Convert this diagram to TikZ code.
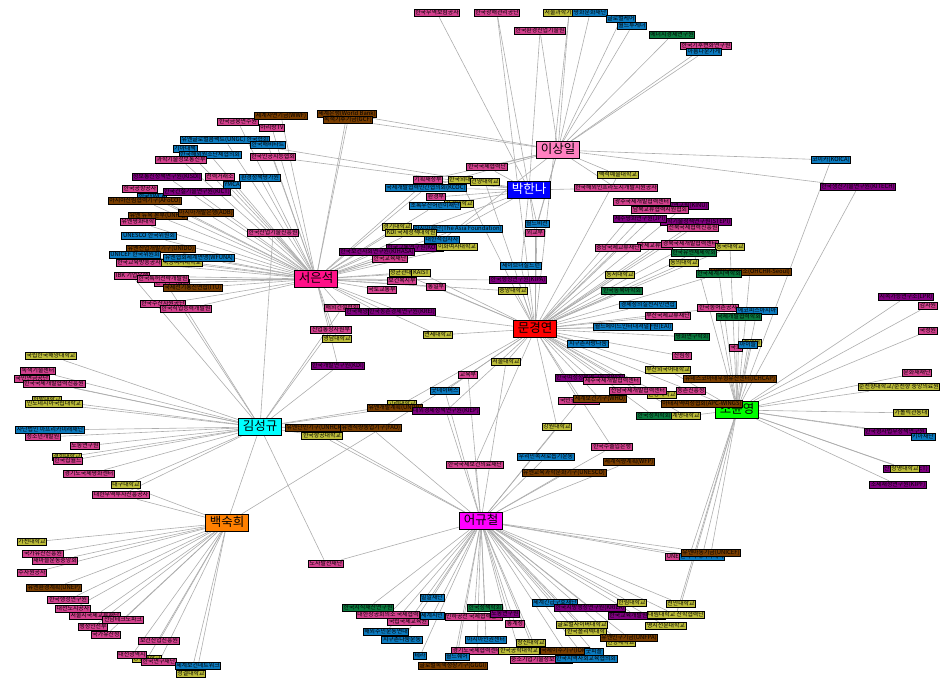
\documentclass[tikz,border=0pt]{standalone}
\usepackage{fontspec}
\setmainfont{Noto Sans CJK KR}
\usepackage{tikz}
\usetikzlibrary{backgrounds}
\definecolor{orgpink}{HTML}{D4418E}
\definecolor{orgblue}{HTML}{0C7BC0}
\definecolor{orgbrown}{HTML}{7A3E00}
\definecolor{orgpurple}{HTML}{800080}
\definecolor{orggreen}{HTML}{0A7A3E}
\definecolor{orgolive}{HTML}{BDBD3A}
\definecolor{hubpink}{HTML}{FF80C0}
\definecolor{hubblue}{HTML}{0000FF}
\definecolor{hubrose}{HTML}{FF1088}
\definecolor{hubred}{HTML}{FF0000}
\definecolor{hubcyan}{HTML}{00FFFF}
\definecolor{hubgreen}{HTML}{00FF00}
\definecolor{huborange}{HTML}{FF8000}
\definecolor{hubmagenta}{HTML}{FF00FF}
\newcommand{\orgfont}{\fontsize{5.9}{6.5}\selectfont}
\newcommand{\hubfont}{\fontsize{12.5}{14}\selectfont}

\begin{document}
\begin{tikzpicture}[
  x=1pt, y=-1pt,
  org/.style={draw=black, line width=0.9pt, inner xsep=1.1pt, inner ysep=0.7pt,
    text height=5pt, text depth=1.2pt, font=\orgfont},
  pinkorg/.style={org, fill=orgpink},
  blueorg/.style={org, fill=orgblue},
  brownorg/.style={org, fill=orgbrown},
  purpleorg/.style={org, fill=orgpurple},
  greenorg/.style={org, fill=orggreen},
  oliveorg/.style={org, fill=orgolive},
  hub/.style={draw=black, line width=0.9pt, inner xsep=4pt, inner ysep=2.6pt,
    text height=9.5pt, text depth=2.5pt, font=\hubfont},
  link/.style={draw=black!32, line width=0.6pt}
]
\useasboundingbox (0,0) rectangle (950,688);

% top
\node[pinkorg] (t1) at (437,13) {한국무역보험공사};
\node[pinkorg] (t2) at (497,13) {한국광해관리공단};
\node[pinkorg] (t11) at (540,31) {한국환경산업기술원};
\node[oliveorg] (t3) at (569,13) {서울과학기술대학교};
\node[blueorg] (t4) at (590,13) {평화문화재단};
\node[blueorg] (t5) at (621,19) {글로벌케어};
\node[blueorg] (t6) at (632,26) {월드투게더};
\node[greenorg] (t7) at (672,35) {에너지경제연구원};
\node[pinkorg] (t8) at (706,46) {한국기후변화연구원};
\node[blueorg] (t9) at (704,52) {아름다운가게};

% left, round seo
\node[pinkorg] (l1) at (238,122) {한국금융연수원};
\node[brownorg] (l3) at (281,116) {세계자연기금(WWF)};
\node[pinkorg] (l2) at (272,128) {아리랑TV};
\node[brownorg] (l4) at (347,114) {세계은행(World Bank)};
\node[brownorg] (l5) at (348,120) {녹색기후기금(GCF)};
\node[blueorg] (l8) at (185,149) {기아대책};
\node[blueorg] (l6) at (225,140) {유엔글로벌콤팩트(UNGC) 한국협회};
\node[blueorg] (l7) at (268,145) {한국해비타트};
\node[blueorg] (l9) at (210,155) {한국해외원조단체협의회};
\node[pinkorg] (l10) at (181,160) {과학기술정보통신부};
\node[pinkorg] (l11) at (273,157) {한국인공지능협회};
\node[purpleorg] (l12) at (167,177) {정보통신정책연구원(KISDI)};
\node[pinkorg] (l13) at (220,177) {전력거래소};
\node[blueorg] (l15) at (260,178) {환경정책평가원};
\node[blueorg] (l16) at (232,185) {YMCA};
\node[pinkorg] (l17) at (140,189) {한국공항공사};
\node[blueorg] (l19) at (152,197) {한국YWCA};
\node[purpleorg] (l18) at (197,192) {한국건설기술연구원(KICT)};
\node[brownorg] (l20) at (145,201) {아시아산림협력기구(AFoCO)};
\node[brownorg] (l21) at (158,216) {유엔 뉴욕 본부(UNHQ)};
\node[brownorg] (l22) at (206,213) {아시아개발은행(ADB)};
\node[pinkorg] (l23) at (138,222) {유엔평화대학};
\node[blueorg] (l24) at (149,236) {UNESCO 한국위원회};
\node[brownorg] (l25) at (161,249) {유엔산업개발기구(UNIDO)};
\node[blueorg] (l26) at (135,255) {UNICEF 한국위원회};
\node[oliveorg] (l29) at (182,263) {숙명여자대학교};
\node[blueorg] (l27) at (199,258) {유엔협회세계연맹(WFUNA)};
\node[pinkorg] (l28) at (139,263) {한국교육방송공사};
\node[pinkorg] (l30) at (132,276) {IBK 기업은행};
\node[pinkorg] (l31) at (172,283) {한국무역협회};
\node[pinkorg] (l32) at (163,279) {한국특허전략개발원};
\node[brownorg] (l33) at (193,288) {국제전기통신연합(ITU)};
\node[pinkorg] (l34) at (163,304) {한국수산자원공단};
\node[pinkorg] (l35) at (186,309) {한국직업능력개발원};
\node[pinkorg] (l36) at (273,233) {한국산업기술진흥원};

% centre
\node[pinkorg] (u1) at (428,180) {기획재정부};
\node[oliveorg] (u2) at (460,180) {한국외대};
\node[oliveorg] (u3) at (485,182) {건양대학교};
\node[blueorg] (u4) at (426,188) {국제개발협력민간협의회(KCOC)};
\node[pinkorg] (u5) at (436,197) {환경부};
\node[oliveorg] (c0) at (459,204) {서강대학교};
\node[blueorg] (c1) at (435,206) {초록우산어린이재단};
\node[pinkorg] (u6) at (487,167) {한국국제협력단};
\node[oliveorg] (c2) at (397,227) {경기대학교};
\node[blueorg] (c4) at (458,229) {아시아재단(The Asia Foundation)};
\node[oliveorg] (c3) at (411,233) {KDI 국제정책대학원};
\node[blueorg] (c5) at (442,240) {대한적십자사};
\node[purpleorg] (c6) at (415,248) {한국교통연구원(KOTI)};
\node[oliveorg] (c7) at (457,247) {이화여자대학교};
\node[purpleorg] (c8) at (377,252) {한국보건사회연구원(KIHASA)};
\node[pinkorg] (c9) at (390,259) {한국교육재단};
\node[oliveorg] (c10) at (401,273) {성균관대};
\node[oliveorg] (c11) at (421,273) {KAIST};
\node[pinkorg] (c12) at (402,281) {보건복지부};
\node[pinkorg] (c13) at (382,290) {국토교통부};
\node[pinkorg] (c14) at (436,287) {통일부};
\node[pinkorg] (c15) at (342,308) {해외건설협회};
\node[purpleorg] (c16) at (378,312) {한국해양수산개발원(KMI)};
\node[purpleorg] (c17) at (402,312) {한국농촌경제연구원(KREI)};
\node[pinkorg] (c18) at (331,330) {산업통상자원부};
\node[oliveorg] (c19) at (337,339) {영남대학교};
\node[oliveorg] (c20) at (438,335) {연세대학교};
\node[purpleorg] (c21) at (338,366) {한국개발연구원(KDI)};
\node[pinkorg] (c22) at (468,375) {교육부};
\node[blueorg] (c23) at (445,391) {굿네이버스};
\node[oliveorg] (c24) at (402,404) {고려대학교};
\node[brownorg] (c25) at (395,408) {유엔개발계획(UNDP)};
\node[purpleorg] (c26) at (446,411) {대외경제정책연구원(KIEP)};
\node[brownorg] (c27) at (315,428) {유엔난민기구(UNHCR)};
\node[brownorg] (c28) at (371,428) {유엔식량농업기구(FAO)};
\node[oliveorg] (c29) at (322,436) {한국항공대학교};

% right of park and moon
\node[oliveorg] (u7) at (618,175) {백석예술대학교};
\node[pinkorg] (u8) at (616,188) {한국해외인프라도시개발지원공사};
\node[purpleorg] (u10) at (685,206) {통일연구원(KINU)};
\node[pinkorg] (u9) at (642,202) {광주국제개발협력센터};
\node[pinkorg] (u11) at (660,210) {남북교류협력지원협회};
\node[purpleorg] (u13) at (696,222) {과학기술정책연구원(STEPI)};
\node[purpleorg] (u12) at (640,219) {제주평화연구원(JPI)};
\node[pinkorg] (u14) at (693,228) {전북국제협력진흥원};
\node[blueorg] (u15) at (537,224) {월드비전};
\node[pinkorg] (u16) at (535,233) {외교부};
\node[pinkorg] (u18) at (655,246) {국제교류센터};
\node[pinkorg] (u17) at (618,248) {충남국제교류재단};
\node[pinkorg] (u19) at (690,244) {경북국제개발협력센터};
\node[oliveorg] (u20) at (730,247) {동국대학교};
\node[greenorg] (u21) at (694,253) {한국유엔체제학회};
\node[oliveorg] (u22) at (684,263) {동의대학교};
\node[brownorg] (u24) at (750,272) {유엔인권사무소(OHCHR-Seoul)};
\node[greenorg] (u23) at (719,274) {한국세계지역학회};
\node[blueorg] (u25) at (521,266) {세이브더칠드런};
\node[purpleorg] (u26) at (518,280) {한국행정연구원(KIPA)};
\node[oliveorg] (u27) at (513,291) {중앙대학교};
\node[oliveorg] (u28) at (620,275) {동서대학교};
\node[greenorg] (u29) at (622,291) {한국동북아학회};
\node[blueorg] (u30) at (648,305) {경제정의실천시민연합};
\node[pinkorg] (u31) at (718,308) {한국농어촌공사};
\node[blueorg] (u32) at (757,311) {에코피스아시아};
\node[greenorg] (u33) at (739,317) {국제개발협력학회};
\node[pinkorg] (u34) at (668,316) {부산국제교류재단};
\node[blueorg] (u35a) at (646,327) {동아시아연구원(EAI)};
\node[blueorg] (u35) at (622,327) {월드에이드인터내셔널};
\node[greenorg] (u36) at (692,337) {평화연구학회};
\node[oliveorg] (u37c) at (752,343) {한세대};
\node[pinkorg] (u37) at (736,348) {국회};
\node[blueorg] (u37b) at (748,345) {아이들};
\node[blueorg] (u38) at (588,344) {지구촌사랑나눔};
\node[pinkorg] (u39) at (682,356) {산림청};
\node[oliveorg] (u40) at (506,362) {서울대학교};
\node[oliveorg] (u41) at (668,370) {부산외국어대학교};
\node[brownorg] (u44) at (730,379) {유네스코아태무형유산센터(ICHCAP)};
\node[purpleorg] (u42) at (590,378) {한국여성정책연구원(KWDI)};
\node[pinkorg] (u43) at (612,381) {제주국제개발협력센터};
\node[oliveorg] (u46) at (662,395) {한동대학교};
\node[pinkorg] (u45) at (638,391) {전남국제개발협력센터};
\node[pinkorg] (u47) at (691,391) {농촌진흥청};
\node[pinkorg] (u48) at (579,401) {국민권익위원회};
\node[brownorg] (u49) at (600,399) {세계보건기구(WHO)};
\node[greenorg] (u51) at (654,416) {한국정치학회};
\node[oliveorg] (u52) at (686,416) {계명대학교};
\node[oliveorg] (u53) at (557,427) {강원대학교};
\node[pinkorg] (u54) at (612,447) {한국수출입은행};
\node[blueorg] (u55) at (546,457) {우리민족서로돕기운동};
\node[brownorg] (u57) at (629,462) {세계식량계획(WFP)};
\node[brownorg] (u56) at (564,473) {유엔교육과학문화기구(UNESCO)};
\node[pinkorg] (u58) at (475,465) {한국국제보건의료재단};
\node[pinkorg] (u59) at (326,564) {노사발전재단};

% far right
\node[blueorg] (u60) at (831,160) {코이카(KOICA)};
\node[purpleorg] (u61) at (858,187) {한국생산기술연구원(KITECH)};
\node[purpleorg] (u62) at (906,297) {지속가능연구소(LPR)};
\node[pinkorg] (u63) at (928,306) {감사원};
\node[pinkorg] (u64) at (928,331) {국정원};
\node[pinkorg] (u65) at (917,373) {문화재재단};
\node[oliveorg] (u66) at (899,387) {순천향대학교/순천향 중앙의료원};
\node[oliveorg] (u68) at (911,413) {가톨릭관동대};
\node[purpleorg] (u69) at (895,432) {한국형사법무정책연구원};
\node[blueorg] (u70) at (923,437) {키아재단};
\node[purpleorg] (u71) at (906,469) {산업연구원(KIET)};
\node[oliveorg] (u71b) at (905,469) {상명대학교};
\node[purpleorg] (u72) at (898,485) {조세재정연구원(KIPF)};
\node[pinkorg] (u73a) at (689,557) {UNEP 한국위원회};
\node[blueorg] (u73b) at (702,557) {한국국제기아대책};
\node[brownorg] (u73) at (711,553) {유엔아동기금(UNICEF)};

% left, round kim
\node[oliveorg] (k1) at (51,356) {국립한국해양대학교};
\node[pinkorg] (k3) at (32,379) {국민연금공단};
\node[pinkorg] (k2) at (38,371) {녹색기술센터};
\node[pinkorg] (k4) at (54,384) {한국국제개발협력진흥원};
\node[oliveorg] (k5) at (47,400) {한밭대학교};
\node[oliveorg] (k6) at (54,404) {인도네시아국립대학교};
\node[pinkorg] (k8) at (43,437) {청소년개발원};
\node[blueorg] (k7) at (50,430) {사단법인 아프리카미래재단};
\node[pinkorg] (k9) at (85,446) {노동연구원};
\node[oliveorg] (k10) at (67,457) {경희대학교};
\node[pinkorg] (k11) at (68,461) {한국잡월드};
\node[pinkorg] (k12) at (89,474) {경기도국제평화센터};
\node[oliveorg] (k13) at (126,485) {대구대학교};
\node[pinkorg] (k14) at (121,495) {대한무역투자진흥공사};

% bottom left, round baek
\node[oliveorg] (b1) at (32,542) {가천대학교};
\node[pinkorg] (b2) at (43,554) {국가유산진흥원};
\node[pinkorg] (b3) at (55,561) {새마을운동중앙회};
\node[pinkorg] (b4) at (32,573) {수자원공사};
\node[brownorg] (b5) at (54,588) {유엔환경계획(UNEP)};
\node[pinkorg] (b6) at (68,600) {한국행정연구원};
\node[pinkorg] (b7) at (73,609) {대전도시공사};
\node[pinkorg] (b8) at (95,616) {서울시국제교류재단};
\node[pinkorg] (b9) at (123,620) {전남테크노파크};
\node[pinkorg] (b10) at (93,627) {행정안전부};
\node[pinkorg] (b11) at (106,635) {국가유산청};
\node[pinkorg] (b12) at (159,641) {보건산업진흥원};
\node[oliveorg] (b14) at (147,659) {충남대학교};
\node[pinkorg] (b13) at (132,655) {대전광역시};
\node[pinkorg] (b15) at (159,662) {한국연구재단};
\node[blueorg] (b16) at (198,666) {세계보건네트워크};
\node[oliveorg] (b17) at (191,674) {성결대학교};

% bottom, round eo
\node[blueorg] (e1) at (432,598) {밀알재단};
\node[pinkorg] (e3) at (388,615) {대한상공회의소 국제협력};
\node[greenorg] (e2) at (368,608) {한국지식재산연구원};
\node[pinkorg] (e6) at (408,622) {국립국제교육원};
\node[blueorg] (e4) at (432,616) {세계시민};
\node[greenorg] (e7) at (485,608) {한국정책학회};
\node[pinkorg] (e5) at (474,617) {인하공전 국제협력센터};
\node[blueorg] (e8) at (386,632) {해외주민운동연대};
\node[blueorg] (e9) at (402,640) {지구촌나눔운동};
\node[blueorg] (e10) at (486,640) {아시아인권센터};
\node[pinkorg] (e11) at (477,651) {경기도국제협력센터};
\node[blueorg] (e12) at (420,656) {테라};
\node[blueorg] (e13) at (457,657) {월드쉐어};
\node[brownorg] (e14) at (453,666) {글로벌녹색성장기구(GGGI)};
\node[blueorg] (e15) at (555,603) {세계긴급구호재단};
\node[purpleorg] (e16) at (590,608) {한국지방행정연구원(KRILA)};
\node[oliveorg] (e17) at (632,603) {한림대학교};
\node[oliveorg] (e18) at (681,604) {천안대학교};
\node[purpleorg] (e19) at (637,616) {한국교육개발원(KEDI)};
\node[oliveorg] (e20) at (676,615) {대림대학교 산학협력단};
\node[oliveorg] (e21) at (666,626) {명지전문대학교};
\node[purpleorg] (e22) at (505,614) {노동연구원};
\node[pinkorg] (e23) at (515,624) {통계청};
\node[oliveorg] (e24) at (582,625) {글로벌사이버대학교};
\node[oliveorg] (e25) at (586,632) {한국폴리텍대학};
\node[oliveorg] (e26) at (621,643) {한양대학교};
\node[brownorg] (e27) at (629,638) {유엔인구기금(UNFPA)};
\node[oliveorg] (e28) at (531,643) {창신대학교};
\node[oliveorg] (e29) at (519,651) {한국공학대학교};
\node[brownorg] (e30) at (565,651) {국제이주기구(IOM)};
\node[blueorg] (e31) at (594,652) {굿피플};
\node[pinkorg] (e32) at (541,660) {중소기업기술정보진흥원};
\node[blueorg] (e33) at (586,659) {한국지역사회교육협의회};

% people
\node[hub, fill=hubpink] (lee) at (558,150) {이상일};
\node[hub, fill=hubblue, text=white] (park) at (529,190) {박한나};
\node[hub, fill=hubrose] (seo) at (316,279) {서은석};
\node[hub, fill=hubred] (moon) at (535,329) {문경연};
\node[hub, fill=hubcyan] (kim) at (260,427) {김성규};
\node[hub, fill=hubgreen] (cho) at (737,410) {조윤영};
\node[hub, fill=huborange] (baek) at (227,523) {백숙희};
\node[hub, fill=hubmagenta] (eo) at (481,521) {어규철};
\node[brownorg] (u50) at (702,404) {아태지역여성협회(APC-WINGS)};

\begin{scope}[on background layer]
  \foreach \o in {t3,t4,t5,t6,t7,t8,t9,t11,l4,l5,u6,u7,u8,u60,u61,u15,u16,c5,u1,u4}
    \draw[link] (lee) -- (\o);
  \foreach \o in {t1,t2,t11,u1,u4,u5,u6,u8,c1,c4,u15,u16,u25,c3,l6,l11}
    \draw[link] (park) -- (\o);
  \foreach \o in {l1,l2,l3,l4,l5,l6,l7,l8,l9,l10,l11,l12,l13,l15,l16,l17,l18,l19,l20,
      l21,l22,l23,l24,l25,l26,l27,l28,l29,l30,l31,l32,l33,l34,l35,l36,
      c2,c3,c5,c6,c7,c8,c9,c10,c11,c12,c13,c14,c15,c16,c17,c18,c19,c20,c21,u1,u4,c1,c4,u26,u27}
    \draw[link] (seo) -- (\o);
  \foreach \o in {t2,t3,u2,u3,u7,u9,u10,u11,u12,u13,u14,u15,u16,u17,u18,u19,u20,u21,u22,
      u23,u25,u26,u27,u28,u29,u30,u31,u34,u35,u35a,u36,u38,u39,u40,u41,u42,u43,u45,u46,
      u47,u48,u49,u51,u52,u53,u54,c20,c22,c23,c25,c26,c14,c10,c11,c17,u58}
    \draw[link] (moon) -- (\o);
  \foreach \o in {k1,k2,k3,k4,k5,k6,k7,k8,k9,k10,k11,k12,k13,k14,c27,c28,c29,c21,c25,
      c24,l30,l32,l35,l36,c15,c18,u59}
    \draw[link] (kim) -- (\o);
  \foreach \o in {b1,b2,b3,b4,b5,b6,b7,b8,b9,b10,b11,b12,b13,b14,b15,b16,b17,k13,k14,c22,kim}
    \draw[link] (baek) -- (\o);
  \foreach \o in {e1,e2,e3,e4,e5,e6,e7,e8,e9,e10,e11,e12,e13,e14,e15,e16,e17,e18,e19,
      e20,e21,e22,e23,e24,e25,e26,e27,e28,e29,e30,e31,e32,e33,u53,u55,u56,u57,u58,
      u59,u54,c22,c26,c23,c27,c28,c29,u73,u73a,u73b,u40,u48}
    \draw[link] (eo) -- (\o);
  \foreach \o in {u60,u61,u62,u63,u64,u65,u66,u68,u69,u70,u71,u71b,u72,u73,u73a,u73b,
      u20,u23,u24,u31,u32,u33,u37,u37b,u37c,u44,u50,u41,u47,u52,e18,e20,u21}
    \draw[link] (cho) -- (\o);
\end{scope}
\end{tikzpicture}
\end{document}
